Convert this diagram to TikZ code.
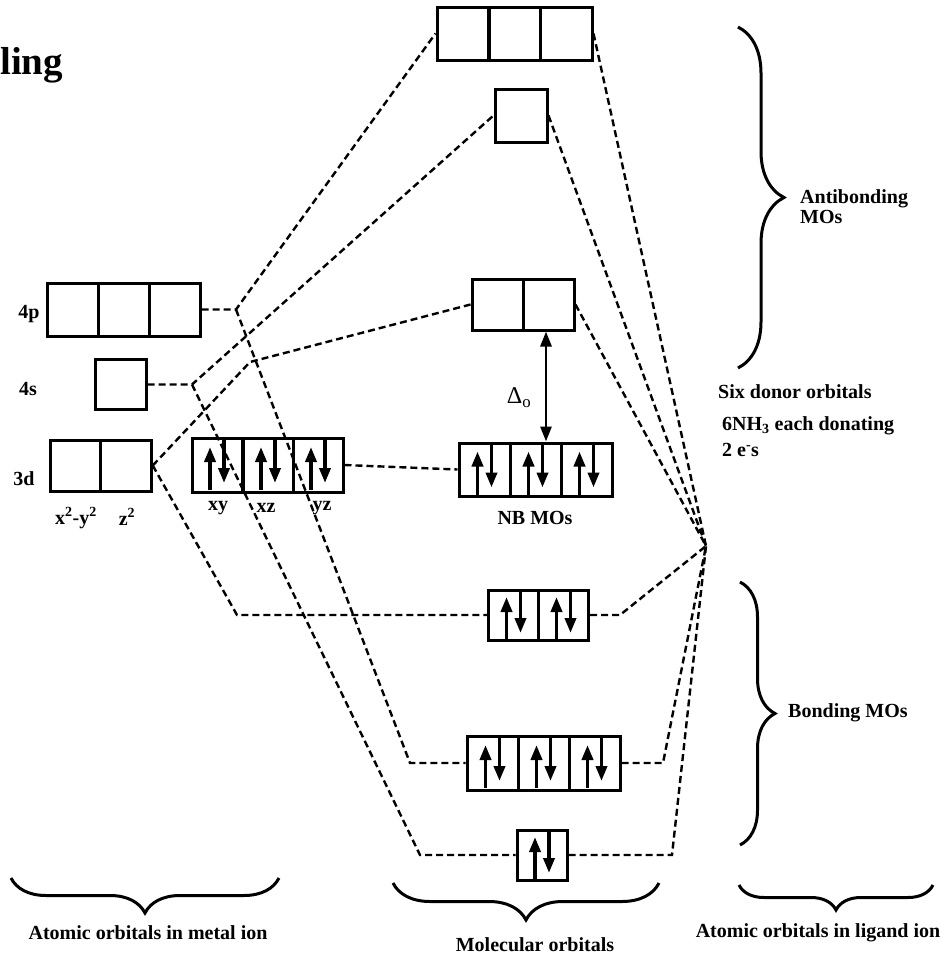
\documentclass[tikz,border=0pt]{standalone}
\usepackage{fontspec}
\setmainfont{Liberation Serif}
\usetikzlibrary{arrows.meta,decorations.pathreplacing,calc}
\begin{document}
\begin{tikzpicture}[x=1pt,y=-1pt,
 orb/.style={draw,line width=3pt,inner sep=0pt,minimum width=51pt,minimum height=52pt},
 dl/.style={line width=2.4pt,dash pattern=on 7pt off 4pt},
 el/.style={line width=3.6pt,-{Triangle[width=11pt,length=15pt]}},
 lab/.style={font=\fontsize{20}{20}\selectfont\bfseries,inner sep=0pt},
 brc/.style={line width=3pt,decorate,decoration={brace,amplitude=#1}},
 pair/.pic={\draw[el] (-7,25) -- (-7,-18); \draw[el] (7,-25) -- (7,18);}
]
\useasboundingbox (0,0) rectangle (945,956);
\node[anchor=base west,inner sep=0pt,font=\fontsize{39}{39}\selectfont\bfseries] (title) at (0,74) {ling};

% metal ion orbitals
\foreach \i/\x in {1/72.5,2/123.5,3/174.5}
  \node[orb,minimum height=53pt] (p\i) at (\x,309.5) {};
\node[orb,minimum height=50pt] (s) at (120.5,384.5) {};
\node[orb,minimum width=50.5pt,minimum height=51pt] (d1) at (75.5,465.5) {};
\node[orb,minimum width=50.5pt,minimum height=51pt] (d2) at (126,465.5) {};
\foreach \i/\x in {1/217,2/268,3/318}{
  \node[orb,minimum width=50pt,minimum height=54pt] (t\i) at (\x,465) {};
  \pic at (t\i) {pair};
}

% molecular orbitals
\foreach \i/\x in {1/463,2/514.5,3/566}
  \node[orb,minimum width=52pt,minimum height=53pt] (ta\i) at (\x,33.5) {};
\node[orb,minimum width=52pt,minimum height=53pt] (astar) at (521,115.5) {};
\foreach \i/\x in {1/497.5,2/548.5}
  \node[orb,minimum height=51pt] (es\i) at (\x,304.5) {};
\foreach \i/\x in {1/484.5,2/535.5,3/586.5}{
  \node[orb,minimum height=53pt] (nb\i) at (\x,469.5) {};
  \pic at (nb\i) {pair};
}
\foreach \i/\x in {1/513.5,2/563.5}{
  \node[orb,minimum width=50pt,minimum height=50pt] (eb\i) at (\x,615) {};
  \pic at (eb\i) {pair};
}
\foreach \i/\x in {1/492.5,2/543.5,3/594.5}{
  \node[orb,minimum height=54pt] (tb\i) at (\x,763) {};
  \pic at (tb\i) {pair};
}
\node[orb,minimum width=50pt,minimum height=50pt] (ab) at (542,855) {};
\pic at (ab) {pair};

% junctions
\coordinate (P1) at (236,309.5);
\coordinate (P2) at (192,384.5);
\coordinate (K) at (250,362);
\coordinate (T1L) at (410,763);
\coordinate (A1L) at (420,855);
\coordinate (E1L) at (237,615);
\coordinate (L) at (706,546);
\coordinate (R1) at (620,615);
\coordinate (R2) at (663,763);
\coordinate (R3) at (672,855);

% correlation lines
\draw[dl] (p3.east) -- (P1) -- (ta1.west);
\draw[dl] (P1) -- (T1L) -- (tb1.west);
\draw[dl] (s.east) -- (P2) -- (astar.west);
\draw[dl] (P2) -- (A1L) -- (ab.west);
\draw[dl] (d2.east) -- (K) -- (es1.west);
\draw[dl] (d2.east) -- (E1L) -- (eb1.west);
\draw[dl] (t3.east) -- (nb1.west);
\draw[dl] (ta3.east) -- (L);
\draw[dl] (astar.east) -- (L);
\draw[dl] (es2.east) -- (L);
\draw[dl] (eb2.east) -- (R1) -- (L);
\draw[dl] (tb3.east) -- (R2) -- (L);
\draw[dl] (ab.east) -- (R3) -- (L);

% splitting arrow
\draw[line width=2.8pt,{Triangle[width=11pt,length=15pt]}-{Triangle[width=11pt,length=15pt]}]
  ([xshift=-2.5pt]es2.south) -- ([xshift=-2.5pt]es2.south |- nb2.north);
\node[lab,font=\fontsize{24}{24}\selectfont] (delta) at (519,398) {Δ\textsubscript{o}};

% labels
\node[lab] (l4p) at (29,314) {4p};
\node[lab] (l4s) at (28,389) {4s};
\node[lab] (l3d) at (24,479) {3d};
\node[lab] (lx2) at (76,518) {x\textsuperscript{2}-y\textsuperscript{2}};
\node[lab] (lz2) at (127,517) {z\textsuperscript{2}};
\node[lab] (lxy) at (218,508) {xy};
\node[lab] (lxz) at (266,508) {xz};
\node[lab] (lyz) at (322,508) {yz};
\node[lab] (nbl) at (535,518) {NB MOs};

% braces and side texts
\draw[brc=46] (738,27) -- (738,368);
\draw[brc=35] (740,582) -- (740,845);
\draw[brc=35] (279,878) -- (11,878);
\draw[brc=37] (659,883) -- (393,883);
\draw[brc=25] (933,885) -- (739,885);
\node[lab,anchor=west,align=left] (anti) at (800,207) {Antibonding\\MOs};
\node[lab,anchor=west] (six) at (718,392) {Six donor orbitals};
\node[lab,anchor=west] (nh3) at (722,426) {6NH\textsubscript{3} each donating};
\node[lab,anchor=west] (two) at (722,450) {2 e\textsuperscript{-}s};
\node[lab,anchor=west] (bond) at (788,713) {Bonding MOs};
\node[lab] (mlab) at (148,933) {Atomic orbitals in metal ion};
\node[lab] (molab) at (535,945) {Molecular orbitals};
\node[lab] (llab) at (818,933) {Atomic orbitals in ligand ion};
\end{tikzpicture}
\end{document}
